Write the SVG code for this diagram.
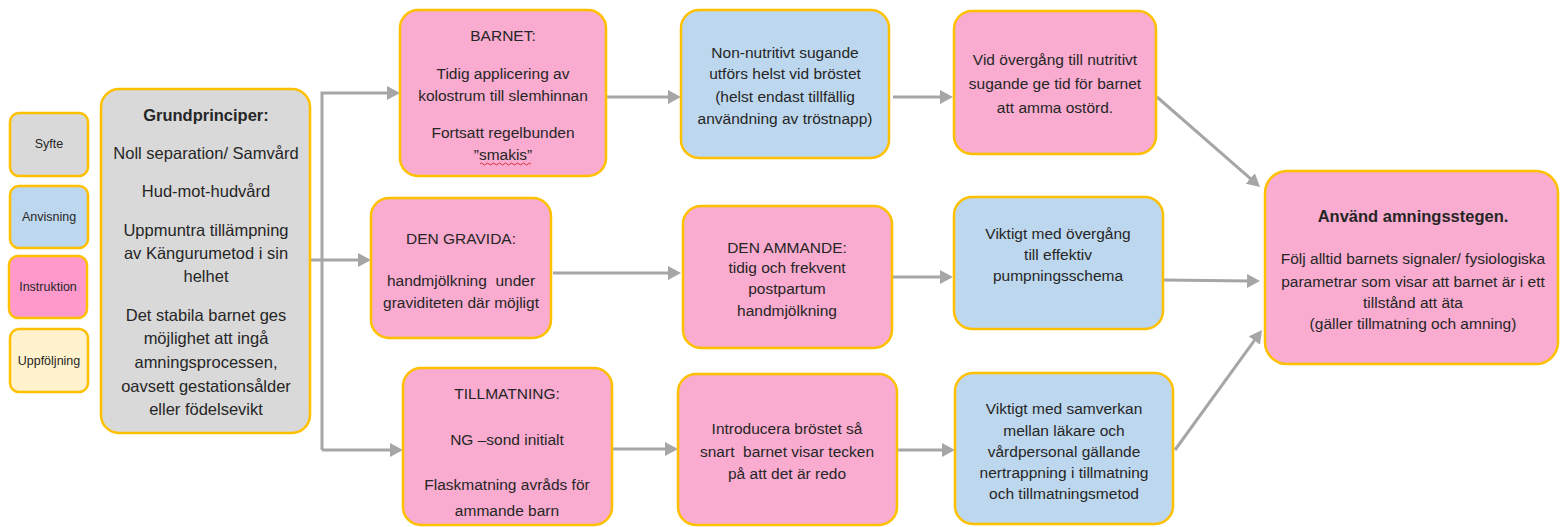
<svg xmlns="http://www.w3.org/2000/svg" width="1560" height="527" viewBox="0 0 1560 527">
<style>
.box{stroke:#ffc000;stroke-width:2.5}
.gray{fill:#d9d9d9}
.blue{fill:#bdd7ee}
.pink{fill:#f9accf}
.pinkL{fill:#ff99cc}
.yel{fill:#fff2cc}
text{font-family:"Liberation Sans",Arial,sans-serif;fill:#262626;text-anchor:middle;dominant-baseline:central}
.t{font-size:15.5px}
.g{font-size:16.5px}
.l{font-size:12.5px}
.b{font-weight:bold}
.big{font-size:16.5px}
.con{fill:none;stroke:#a6a6a6;stroke-width:3}
</style>
<defs>
<marker id="ah" markerUnits="userSpaceOnUse" markerWidth="13" markerHeight="14" refX="3" refY="7" orient="auto">
<path d="M0,0 L13,7 L0,14 z" fill="#a6a6a6"/>
</marker>
</defs>
<rect width="1560" height="527" fill="#ffffff"/>

<g id="connectors">
<path class="con" d="M310,260 H361" marker-end="url(#ah)"/>
<path class="con" d="M322,450 V93 H390" marker-end="url(#ah)"/>
<path class="con" d="M322,450 H393" marker-end="url(#ah)"/>
<path class="con" d="M606,97 H671" marker-end="url(#ah)"/>
<path class="con" d="M893,97 H943" marker-end="url(#ah)"/>
<path class="con" d="M553,273 H671" marker-end="url(#ah)"/>
<path class="con" d="M892,277 H943" marker-end="url(#ah)"/>
<path class="con" d="M612,449 H668" marker-end="url(#ah)"/>
<path class="con" d="M897,450 H945" marker-end="url(#ah)"/>
<path class="con" d="M1157,97 L1252.5,180.4" marker-end="url(#ah)"/>
<path class="con" d="M1163,280 L1250,281" marker-end="url(#ah)"/>
<path class="con" d="M1175,450 L1256.1,338.1" marker-end="url(#ah)"/>
</g>

<g id="legend-syfte">
<rect class="box gray" x="10" y="113" width="78" height="63" rx="9"/>
<text class="l" x="49" y="144">Syfte</text>
</g>
<g id="legend-anvisning">
<rect class="box blue" x="10" y="186" width="78" height="62" rx="9"/>
<text class="l" x="49" y="217">Anvisning</text>
</g>
<g id="legend-instruktion">
<rect class="box pinkL" x="9" y="256" width="78" height="62" rx="9"/>
<text class="l" x="48" y="287">Instruktion</text>
</g>
<g id="legend-uppfoljning">
<rect class="box yel" x="10" y="329" width="78" height="63" rx="9"/>
<text class="l" x="49" y="361">Uppföljning</text>
</g>

<g id="grundprinciper">
<rect class="box gray" x="101" y="89" width="209" height="344" rx="18"/>
<text class="g b" x="206" y="115">Grundprinciper:</text>
<text class="g" x="206" y="153">Noll separation/ Samvård</text>
<text class="g" x="206" y="191">Hud-mot-hudvård</text>
<text class="g" x="206" y="230">Uppmuntra tillämpning</text>
<text class="g" x="206" y="253">av Kängurumetod i sin</text>
<text class="g" x="206" y="276">helhet</text>
<text class="g" x="206" y="315">Det stabila barnet ges</text>
<text class="g" x="206" y="338">möjlighet att ingå</text>
<text class="g" x="206" y="362">amningsprocessen,</text>
<text class="g" x="206" y="386">oavsett gestationsålder</text>
<text class="g" x="206" y="409">eller födelsevikt</text>
</g>

<g id="barnet">
<rect class="box pink" x="400" y="10" width="206" height="166" rx="18"/>
<text class="t" x="503" y="35">BARNET:</text>
<text class="t" x="503" y="73">Tidig applicering av</text>
<text class="t" x="503" y="95">kolostrum till slemhinnan</text>
<text class="t" x="503" y="132">Fortsatt regelbunden</text>
<text class="t" x="503" y="154">”smakis”</text>
<path d="M480,164 q1.5,-2 3,0 t3,0 t3,0 t3,0 t3,0 t3,0 t3,0 t3,0 t3,0 t3,0 t3,0 t3,0 t3,0 t3,0 t3,0 t3,0 t3,0" fill="none" stroke="#e03030" stroke-width="1"/>
</g>

<g id="den-gravida">
<rect class="box pink" x="371" y="198" width="180" height="140" rx="18"/>
<text class="t" x="461" y="238">DEN GRAVIDA:</text>
<text class="t" x="461" y="280" xml:space="preserve">handmjölkning  under</text>
<text class="t" x="461" y="302">graviditeten där möjligt</text>
</g>

<g id="tillmatning">
<rect class="box pink" x="403" y="368" width="209" height="157" rx="18"/>
<text class="t" x="507" y="393">TILLMATNING:</text>
<text class="t" x="507" y="439">NG –sond initialt</text>
<text class="t" x="507" y="484">Flaskmatning avråds för</text>
<text class="t" x="507" y="510">ammande barn</text>
</g>

<g id="non-nutritivt">
<rect class="box blue" x="681" y="10" width="208" height="148" rx="18"/>
<text class="t" x="785" y="52">Non-nutritivt sugande</text>
<text class="t" x="785" y="73">utförs helst vid bröstet</text>
<text class="t" x="785" y="96">(helst endast tillfällig</text>
<text class="t" x="785" y="118">användning av tröstnapp)</text>
</g>

<g id="den-ammande">
<rect class="box pink" x="683" y="206" width="209" height="142" rx="18"/>
<text class="t" x="787" y="247">DEN AMMANDE:</text>
<text class="t" x="787" y="267">tidig och frekvent</text>
<text class="t" x="787" y="288">postpartum</text>
<text class="t" x="787" y="310">handmjölkning</text>
</g>

<g id="introducera">
<rect class="box pink" x="678" y="374" width="219" height="151" rx="18"/>
<text class="t" x="787" y="428">Introducera bröstet så</text>
<text class="t" x="787" y="451" xml:space="preserve">snart  barnet visar tecken</text>
<text class="t" x="787" y="473">på att det är redo</text>
</g>

<g id="vid-overgang">
<rect class="box pink" x="954" y="11" width="202" height="143" rx="18"/>
<text class="t" x="1055" y="59">Vid övergång till nutritivt</text>
<text class="t" x="1055" y="83">sugande ge tid för barnet</text>
<text class="t" x="1055" y="107">att amma ostörd.</text>
</g>

<g id="viktigt-overgang">
<rect class="box blue" x="954" y="197" width="209" height="132" rx="18"/>
<text class="t" x="1058" y="233">Viktigt med övergång</text>
<text class="t" x="1058" y="254">till effektiv</text>
<text class="t" x="1058" y="275">pumpningsschema</text>
</g>

<g id="viktigt-samverkan">
<rect class="box blue" x="955" y="373" width="218" height="151" rx="18"/>
<text class="t" x="1064" y="408">Viktigt med samverkan</text>
<text class="t" x="1064" y="430">mellan läkare och</text>
<text class="t" x="1064" y="451">vårdpersonal gällande</text>
<text class="t" x="1064" y="472">nertrappning i tillmatning</text>
<text class="t" x="1064" y="493">och tillmatningsmetod</text>
</g>

<g id="anvand">
<rect class="box pink" x="1265" y="171" width="293" height="193" rx="22"/>
<text class="big b" x="1413" y="216">Använd amningsstegen.</text>
<text class="t" x="1413" y="258">Följ alltid barnets signaler/ fysiologiska</text>
<text class="t" x="1413" y="281">parametrar som visar att barnet är i ett</text>
<text class="t" x="1413" y="302">tillstånd att äta</text>
<text class="t" x="1413" y="323">(gäller tillmatning och amning)</text>
</g>
</svg>
